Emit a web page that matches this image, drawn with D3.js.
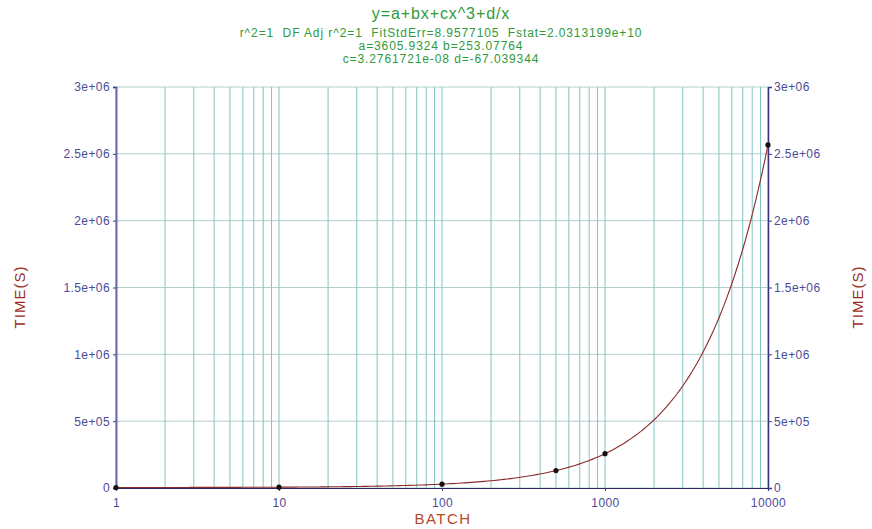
<!DOCTYPE html>
<html>
<head>
<meta charset="utf-8">
<title>batch time fit</title>
<script src="https://d3js.org/d3.v7.min.js"></script>
<style>
    body { margin: 0; background: #fff; }
    svg text { font-family: "Liberation Sans", Arial, sans-serif; white-space: pre; }
    .tick text { fill: #4b4b98; font-size: 12px; letter-spacing: 0.4px; }
    .grid line { stroke: #62b4b4; stroke-width: 0.8; }
    .hgrid line { stroke: #9cc4bc; stroke-width: 0.8; }
</style>
</head>
<body>
<svg id="chart" width="872" height="529"></svg>
<script>
// measured points
let batch = [1, 10, 100, 500, 1000, 10000];
let time = [3790, 6130, 28900, 130100, 256700, 2567000];

// fit coefficients, as printed in the title
let coefNames = ['a', 'b', 'c', 'd'];
let coefValues = [3605.9324, 253.07764, 3.2761721e-08, -67.039344];

let xTicks = [1, 10, 100, 1000, 10000];
let yTicks = [0, 5e5, 1e6, 1.5e6, 2e6, 2.5e6, 3e6];
let yTickLabels = ['0', '5e+05', '1e+06', '1.5e+06', '2e+06', '2.5e+06', '3e+06'];

let titleLines = [
    'y=a+bx+cx^3+d/x',
    'r^2=1  DF Adj r^2=1  FitStdErr=8.9577105  Fstat=2.0313199e+10',
    'a=3605.9324 b=253.07764',
    'c=3.2761721e-08 d=-67.039344'
];

let pLeft = 116, pRight = 768, pTop = 87, pBottom = 488;
let svg = d3.select('#chart');

let x = d3.scaleLog().domain([1, 10000]).range([pLeft, pRight]);
let y = d3.scaleLinear().domain([0, 3e6]).range([pBottom, pTop]);

// vertical log grid
let minor = [];
for (let dec = 1; dec < 10000; dec *= 10) {
    for (let k = 1; k < 10; k++) minor.push(dec * k);
}
minor.push(10000);
svg.append('g').attr('class', 'grid')
    .selectAll('line').data(minor).enter().append('line')
    .attr('x1', d => x(d)).attr('x2', d => x(d))
    .attr('y1', pTop).attr('y2', pBottom);

svg.append('g').attr('class', 'hgrid')
    .selectAll('line').data(yTicks).enter().append('line')
    .attr('x1', pLeft).attr('x2', pRight)
    .attr('y1', d => y(d)).attr('y2', d => y(d));

// axes
let yl = svg.append('g').attr('transform', 'translate(' + pLeft + ',0)')
    .call(d3.axisLeft(y).tickValues(yTicks).tickSize(3).tickPadding(3)
        .tickFormat((d, i) => yTickLabels[i]));
let yr = svg.append('g').attr('transform', 'translate(' + pRight + ',0)')
    .call(d3.axisRight(y).tickValues(yTicks).tickSize(4).tickPadding(2)
        .tickFormat((d, i) => yTickLabels[i]));
let xb = svg.append('g').attr('transform', 'translate(0,' + pBottom + ')')
    .call(d3.axisBottom(x).tickValues(xTicks).tickSize(3).tickPadding(7)
        .tickFormat(d3.format('d')));
yl.select('path.domain').attr('stroke', '#6a6ab0').attr('stroke-width', 2);
yr.select('path.domain').attr('stroke', '#34347a').attr('stroke-width', 1.5);
xb.select('path.domain').attr('stroke', '#2a2a60').attr('stroke-width', 1.2);
[yl, yr, xb].forEach(function(g) {
    g.selectAll('.tick line').attr('stroke', '#3a3a8a');
});

// fit curve from printed coefficients
let c = {};
coefNames.forEach((n, i) => c[n] = coefValues[i]);
let fitX = d3.range(0, 4.0001, 0.02).map(e => Math.pow(10, e));
let fit = fitX.map(v => ({ x: v, y: c.a + c.b * v + c.c * v * v * v + c.d / v }));
svg.append('path')
    .datum(fit)
    .attr('fill', 'none')
    .attr('stroke', '#8a2a2a')
    .attr('stroke-width', 1.1)
    .attr('d', d3.line().x(d => x(d.x)).y(d => y(d.y)));

svg.append('g').selectAll('circle').data(batch).enter().append('circle')
    .attr('cx', d => x(d))
    .attr('cy', (d, i) => y(time[i]))
    .attr('r', 2.6)
    .attr('fill', '#111');

// titles
let titleY = [19, 37, 50, 63];
let titleSize = [16, 12, 12, 12];
svg.append('g').selectAll('text').data(titleLines).enter().append('text')
    .attr('x', 441)
    .attr('y', (d, i) => titleY[i])
    .attr('text-anchor', 'middle')
    .attr('fill', '#2f9a3a')
    .style('font-size', (d, i) => titleSize[i] + 'px')
    .style('letter-spacing', '0.9px')
    .text(d => d);

svg.append('text')
    .attr('x', 443).attr('y', 524)
    .attr('text-anchor', 'middle')
    .attr('fill', '#b24a2a')
    .style('font-size', '15px')
    .style('letter-spacing', '1.5px')
    .text('BATCH');

[20, 858].forEach(function(px) {
    svg.append('text')
        .attr('transform', 'translate(' + px + ',297) rotate(-90)')
        .attr('text-anchor', 'middle')
        .attr('dy', '0.35em')
        .attr('fill', '#9a2e22')
        .style('font-size', '15px')
        .style('letter-spacing', '1px')
        .text('TIME(S)');
});
</script>
</body>
</html>
